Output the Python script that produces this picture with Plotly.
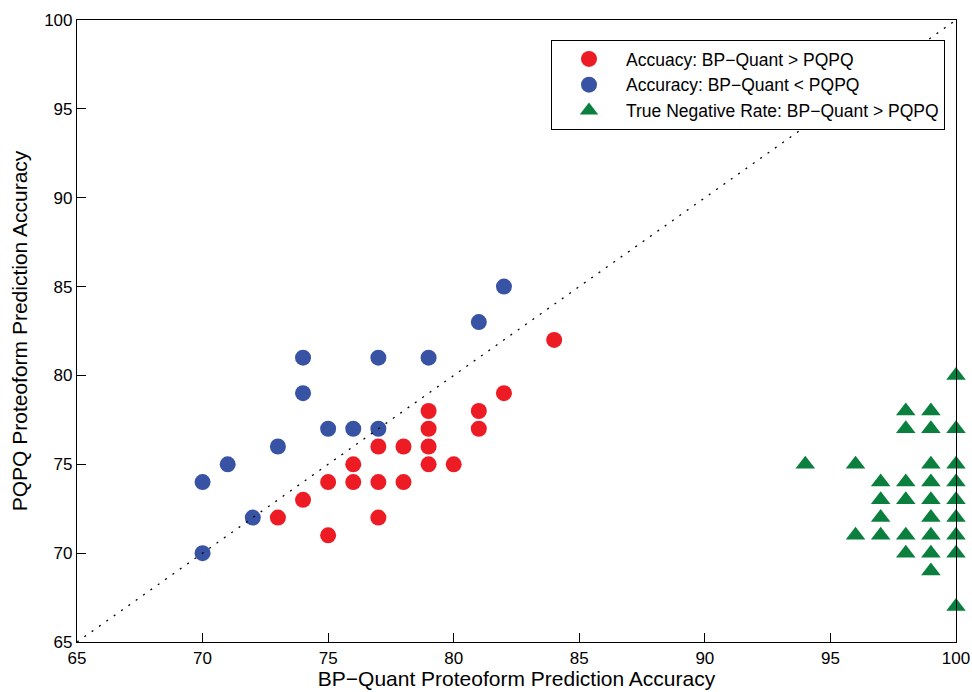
import plotly.graph_objects as go

# Accuracy: BP-Quant > PQPQ (red)
red_x = [73, 74, 75, 75, 76, 76, 77, 77, 77, 78, 78, 79, 79, 79, 79, 80, 81, 81, 82, 84]
red_y = [72, 73, 71, 74, 74, 75, 72, 74, 76, 74, 76, 75, 76, 77, 78, 75, 77, 78, 79, 82]

# Accuracy: BP-Quant < PQPQ (blue)
blue_x = [70, 70, 71, 72, 73, 74, 74, 75, 76, 77, 77, 79, 81, 82]
blue_y = [70, 74, 75, 72, 76, 79, 81, 77, 77, 77, 81, 81, 83, 85]

# True Negative Rate: BP-Quant > PQPQ (green)
green_x = [94, 96, 96, 97, 97, 97, 97,
           98, 98, 98, 98, 98, 98,
           99, 99, 99, 99, 99, 99, 99, 99, 99,
           100, 100, 100, 100, 100, 100, 100, 100, 100]
green_y = [75, 75, 71, 74, 73, 72, 71,
           78, 77, 74, 73, 71, 70,
           78, 77, 75, 74, 73, 72, 71, 70, 69,
           80, 77, 75, 74, 73, 72, 71, 70, 67]

diag = [65, 100]
ticks = [65, 70, 75, 80, 85, 90, 95, 100]

FONT = "Liberation Sans, Arial, Helvetica, sans-serif"

fig = go.Figure()
fig.add_trace(go.Scatter(
    x=red_x, y=red_y, mode="markers", name="Accuacy: BP\u2212Quant > PQPQ",
    marker=dict(symbol="circle", size=16, color="#ED1C24", line=dict(width=0)),
))
fig.add_trace(go.Scatter(
    x=blue_x, y=blue_y, mode="markers", name="Accuracy: BP\u2212Quant < PQPQ",
    marker=dict(symbol="circle", size=16, color="#3953A4", line=dict(width=0)),
))
fig.add_trace(go.Scatter(
    x=green_x, y=green_y, mode="markers", name="True Negative Rate: BP\u2212Quant > PQPQ",
    marker=dict(symbol="triangle-up", size=17, color="#0B7F3E", line=dict(width=0)),
    cliponaxis=False,
))
fig.add_trace(go.Scatter(
    x=diag, y=diag, mode="lines", showlegend=False,
    line=dict(color="black", width=1.3, dash="2px,7px"),
))

axis_common = dict(
    range=[65, 100], tickvals=ticks, ticks="inside", ticklen=9, tickwidth=1,
    tickcolor="black", showline=True, linecolor="black", linewidth=1.2,
    mirror=True, showgrid=False, zeroline=False, ticklabeloverflow="allow",
    automargin=False,
    tickfont=dict(family=FONT, size=17, color="black"),
)

fig.update_layout(
    width=972, height=692,
    margin=dict(l=77, r=16, t=20, b=50),
    paper_bgcolor="white", plot_bgcolor="white",
    font=dict(family=FONT, color="black"),
    xaxis=dict(**axis_common,
               title=dict(text="BP\u2212Quant Proteoform Prediction Accuracy",
                          font=dict(family=FONT, size=21), standoff=2)),
    yaxis=dict(**axis_common,
               title=dict(text="PQPQ Proteoform Prediction Accuracy",
                          font=dict(family=FONT, size=21), standoff=10)),
    legend=dict(
        x=(551 - 77) / 879, y=(642 - 40) / 622, xanchor="left", yanchor="top",
        bgcolor="white", bordercolor="black", borderwidth=1,
        font=dict(family=FONT, size=17.5, color="black"),
        itemwidth=64, tracegroupgap=0,
    ),
)

fig.write_html("out.html")
